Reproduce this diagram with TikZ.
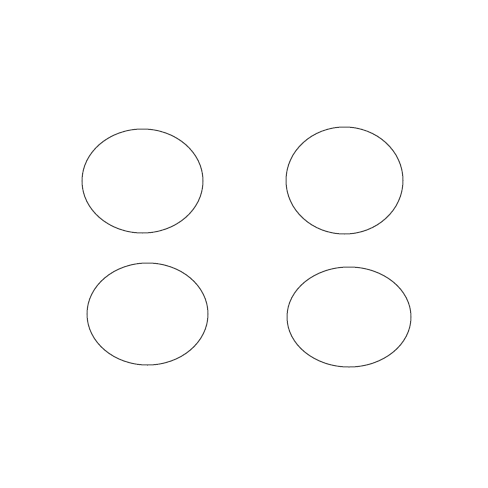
\documentclass[tikz,border=0pt]{standalone}
\begin{document}
\begin{tikzpicture}[x=1pt,y=-1pt,ring/.style={draw=black!75,line width=1pt}]
\useasboundingbox (0,0) rectangle (488,488);
\draw[ring] (142.5,181) ellipse [x radius=60.5, y radius=52];
\draw[ring] (344.5,180.5) ellipse [x radius=58.5, y radius=53.5];
\draw[ring] (147.5,314) ellipse [x radius=60.5, y radius=51];
\draw[ring] (349,317) ellipse [x radius=62, y radius=50];
\end{tikzpicture}
\end{document}
